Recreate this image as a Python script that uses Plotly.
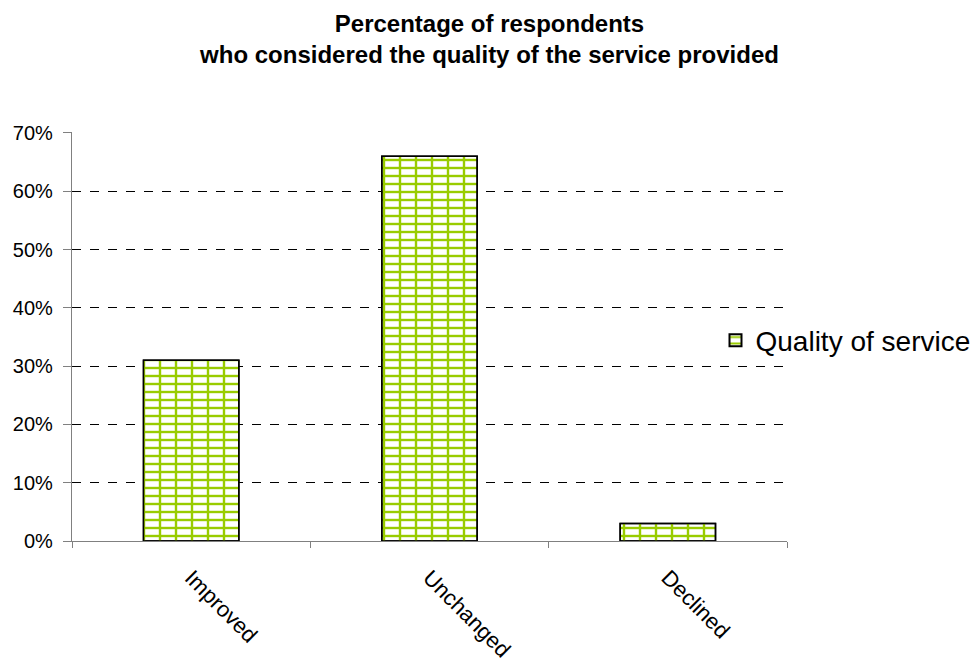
import plotly.graph_objects as go

categories = ["Improved", "Unchanged", "Declined"]
quality_values = [0.31, 0.66, 0.03]
y_tick_values = [0, 0.1, 0.2, 0.3, 0.4, 0.5, 0.6, 0.7]
y_tick_labels = ["0%", "10%", "20%", "30%", "40%", "50%", "60%", "70%"]

green = "#99cc00"
font_family = "Liberation Sans, Arial, sans-serif"

fig = go.Figure()

# horizontal mortar lines of the brick fill
fig.add_trace(go.Bar(
    x=categories, y=quality_values, name="Quality of service",
    width=0.4,
    marker=dict(
        color="white",
        line=dict(color="black", width=1.5),
        pattern=dict(shape="-", fgcolor=green, bgcolor="white",
                     size=8, solidity=0.3, fillmode="replace"),
    ),
    showlegend=True,
))
# vertical joints drawn over the same bars
fig.add_trace(go.Bar(
    x=categories, y=quality_values, name="Quality of service",
    width=0.4,
    marker=dict(
        color="rgba(0,0,0,0)",
        line=dict(color="black", width=1.5),
        pattern=dict(shape="|", fgcolor=green, bgcolor="rgba(0,0,0,0)",
                     size=16, solidity=0.15, fillmode="replace"),
    ),
    showlegend=False,
    hoverinfo="skip",
))

fig.update_layout(
    width=979, height=664,
    barmode="overlay",
    plot_bgcolor="white", paper_bgcolor="white",
    font=dict(family=font_family, color="black", size=19),
    margin=dict(l=72, r=192, t=132, b=123, autoexpand=False),
    title=dict(
        text="<b>Percentage of respondents<br>who considered the quality of the service provided</b>",
        x=0.5, xanchor="center", y=0.952, yanchor="middle",
        font=dict(size=24),
    ),
    legend=dict(
        x=0.9, xanchor="left", y=0.49, yanchor="middle",
        font=dict(size=28), bgcolor="rgba(0,0,0,0)",
        itemsizing="constant",
    ),
    xaxis=dict(
        type="category",
        showline=True, linecolor="#808080", linewidth=1.2,
        ticks="outside", tickson="boundaries", ticklen=6, tickcolor="#808080",
        tickangle=45, showgrid=False, ticklabelstandoff=14,
        tickfont=dict(size=22),
    ),
    yaxis=dict(
        range=[0, 0.7017], tickvals=y_tick_values, ticktext=y_tick_labels,
        showline=True, linecolor="#808080", linewidth=1.2,
        ticks="outside", ticklen=8, tickcolor="#808080",
        ticklabelstandoff=6,
        showgrid=True, gridcolor="black", gridwidth=1, griddash="dash",
        zeroline=False,
        tickfont=dict(size=20),
    ),
)

fig.write_html("out.html")
